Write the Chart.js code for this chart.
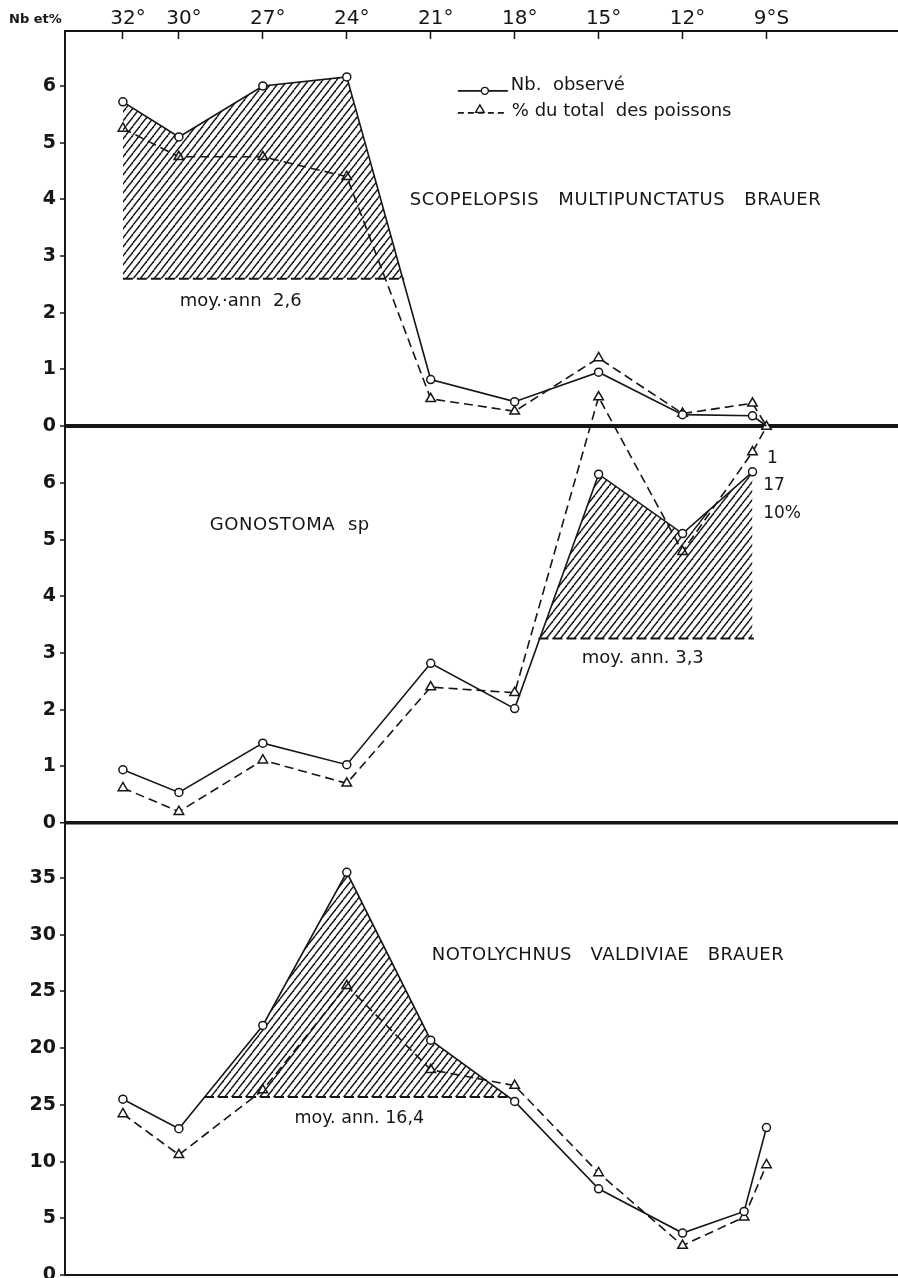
<!DOCTYPE html>
<html>
<head>
<meta charset="utf-8">
<script src="https://cdn.jsdelivr.net/npm/chart.js@4.4.1/dist/chart.umd.min.js"></script>
<style>
  html, body { margin: 0; padding: 0; background: #fff; }
  #wrap { width: 898px; height: 1278px; }
</style>
</head>
<body>
<div id="wrap"><canvas id="chart" width="898" height="1278"></canvas></div>
<script>
// stations, degrees of latitude S (top axis)
const latTicks = [32, 30, 27, 24, 21, 18, 15, 12, 9];
const latTickLabels = ["32°", "30°", "27°", "24°", "21°", "18°", "15°", "12°", "9°S"];

// Scopelopsis multipunctatus Brauer
const scopeLat = [32, 30, 27, 24, 21, 18, 15, 12, 9.5, 9];
const scopeNb = [5.72, 5.1, 6.0, 6.16, 0.82, 0.43, 0.95, 0.2, 0.18, 0];
const scopePct = [5.25, 4.75, 4.75, 4.4, 0.48, 0.26, 1.2, 0.22, 0.4, 0];
const scopeMean = 2.6;
const scopeMeanSpan = [32, 21.95];

// Gonostoma sp
const gonoLatNb = [32, 30, 27, 24, 21, 18, 15, 12, 9.5];
const gonoNb = [0.94, 0.54, 1.41, 1.03, 2.82, 2.02, 6.16, 5.11, 6.2];
const gonoLatPct = [32, 30, 27, 24, 21, 18, 15, 12, 9.5, 9];
const gonoPct = [0.62, 0.2, 1.11, 0.7, 2.4, 2.3, 7.52, 4.79, 6.55, 7.0];
const gonoMean = 3.26;
const gonoMeanSpan = [17.15, 9.45];

// Notolychnus valdiviae Brauer
const notoLat = [32, 30, 27, 24, 21, 18, 15, 12, 9.8, 9];
const notoNb = [15.5, 12.9, 22.0, 35.5, 20.7, 15.3, 7.6, 3.7, 5.6, 13.0];
const notoPct = [14.2, 10.6, 16.3, 25.5, 18.1, 16.7, 9.0, 2.6, 5.1, 9.7];
const notoMean = 15.7;
const notoMeanSpan = [29.1, 18.25];

// left axis ticks
const smallTicks = [0, 1, 2, 3, 4, 5, 6];
const notoTicks = [0, 5, 10, 15, 20, 25, 30, 35];
const notoTickLabels = ["0", "5", "10", "25", "20", "25", "30", "35"];

const ink = "#161616";
const face = "'DejaVu Sans', sans-serif";

function makeHatch() {
  const w = 7, h = 9;
  const c = document.createElement("canvas");
  c.width = w;
  c.height = h;
  const g = c.getContext("2d");
  g.strokeStyle = ink;
  g.lineWidth = 1.4;
  for (const k of [-1, 0, 1]) {
    g.beginPath();
    g.moveTo(k * w, h);
    g.lineTo(k * w + w, 0);
    g.stroke();
  }
  return g.createPattern(c, "repeat");
}
const hatch = makeHatch();

function points(lat, vals) {
  return lat.map((x, i) => ({ x, y: vals[i] }));
}

// fillTo: index of the mean dataset of the same panel
function nbLine(axis, lat, vals, fillTo) {
  return {
    label: "Nb. observé",
    yAxisID: axis,
    data: points(lat, vals),
    borderColor: ink,
    borderWidth: 1.6,
    pointStyle: "circle",
    pointRadius: (c) => (c.raw && c.raw.y === 0 ? 0 : 4),
    pointBackgroundColor: "#fff",
    pointBorderColor: ink,
    pointBorderWidth: 1.5,
    fill: { target: fillTo, above: hatch, below: "rgba(0,0,0,0)" },
    clip: false,
  };
}

function pctLine(axis, lat, vals) {
  return {
    label: "% du total des poissons",
    yAxisID: axis,
    data: points(lat, vals),
    borderColor: ink,
    borderWidth: 1.6,
    borderDash: [9, 5],
    pointStyle: "triangle",
    pointRadius: (c) => (c.raw && c.raw.y === 0 ? 0 : 5.5),
    pointBackgroundColor: "#fff",
    pointBorderColor: ink,
    pointBorderWidth: 1.5,
    fill: false,
    clip: false,
  };
}

function meanLine(axis, span, mean) {
  return {
    label: "moy. ann.",
    yAxisID: axis,
    data: span.map((x) => ({ x, y: mean })),
    borderColor: ink,
    borderWidth: 2,
    borderDash: [10, 4],
    pointRadius: 0,
    fill: false,
    clip: false,
  };
}

const notes = [
  { text: "SCOPELOPSIS   MULTIPUNCTATUS   BRAUER", axis: "y1", x: 21.75, y: 3.99, size: 18, spacing: 0.6 },
  { text: "GONOSTOMA  sp", axis: "y2", x: 28.9, y: 5.26, size: 18, spacing: 0.6 },
  { text: "NOTOLYCHNUS   VALDIVIAE   BRAUER", axis: "y3", x: 20.96, y: 28.2, size: 18, spacing: 0.5 },
  { text: "moy.·ann  2,6", axis: "y1", x: 29.97, y: 2.2, size: 18, spacing: 0 },
  { text: "moy. ann. 3,3", axis: "y2", x: 15.6, y: 2.91, size: 18, spacing: 0 },
  { text: "moy. ann. 16,4", axis: "y3", x: 25.87, y: 13.83, size: 17.5, spacing: 0 },
  { text: "1", axis: "y2", x: 8.98, y: 6.44, size: 17, spacing: 0 },
  { text: "17", axis: "y2", x: 9.12, y: 5.95, size: 17, spacing: 0 },
  { text: "10%", axis: "y2", x: 9.12, y: 5.47, size: 17, spacing: 0 },
];

const legendAt = { axis: "y1", x: 20.03, y: 6.02 };

const annotate = {
  id: "annotate",
  afterDraw(chart) {
    const { ctx, scales, chartArea } = chart;
    ctx.save();
    ctx.fillStyle = ink;
    ctx.textBaseline = "middle";
    ctx.textAlign = "left";
    for (const n of notes) {
      ctx.font = `${n.size}px ${face}`;
      ctx.letterSpacing = `${n.spacing || 0}px`;
      ctx.fillText(n.text, scales.x.getPixelForValue(n.x), scales[n.axis].getPixelForValue(n.y));
    }
    ctx.letterSpacing = "0px";

    // axis caption
    ctx.font = `bold 13px ${face}`;
    ctx.fillText("Nb et%", chartArea.left - 56, chartArea.top - 11);

    // legend
    const lx = scales.x.getPixelForValue(legendAt.x);
    const ly = scales[legendAt.axis].getPixelForValue(legendAt.y);
    ctx.strokeStyle = ink;
    ctx.lineWidth = 1.6;
    ctx.beginPath();
    ctx.moveTo(lx, ly + 6);
    ctx.lineTo(lx + 50, ly + 6);
    ctx.stroke();
    ctx.setLineDash([6, 4]);
    ctx.beginPath();
    ctx.moveTo(lx, ly + 28);
    ctx.lineTo(lx + 50, ly + 28);
    ctx.stroke();
    ctx.setLineDash([]);
    ctx.fillStyle = "#fff";
    ctx.lineWidth = 1.4;
    Chart.helpers.drawPoint(ctx, { pointStyle: "circle", radius: 3.5, borderWidth: 1.4, rotation: 0 }, lx + 27, ly + 6);
    Chart.helpers.drawPoint(ctx, { pointStyle: "triangle", radius: 5, borderWidth: 1.4, rotation: 0 }, lx + 22, ly + 25);
    ctx.fillStyle = ink;
    ctx.font = `18px ${face}`;
    ctx.fillText("Nb.  observé", lx + 53, ly);
    ctx.fillText("% du total  des poissons", lx + 54, ly + 26);
    ctx.restore();
  },
};

function panelAxis(weight, stackWeight, max, ticks, labels, zeroWidth) {
  return {
    type: "linear",
    position: "left",
    stack: "panels",
    stackWeight,
    weight,
    min: 0,
    max,
    afterBuildTicks: (s) => {
      s.ticks = ticks.map((v) => ({ value: v }));
    },
    afterFit: (s) => {
      s.width = 65;
      s.paddingTop = 0;
      s.paddingBottom = 0;
    },
    border: { color: ink, width: 2 },
    grid: {
      color: ink,
      lineWidth: (c) => (c.tick && c.tick.value === 0 ? zeroWidth : 0),
      tickLength: 5,
      tickWidth: 1.5,
      tickColor: ink,
    },
    ticks: {
      color: ink,
      padding: 4,
      font: { family: face, size: 19, weight: "bold" },
      callback: (v) => labels[ticks.indexOf(v)],
    },
  };
}

new Chart(document.getElementById("chart"), {
  type: "line",
  data: {
    datasets: [
      nbLine("y1", scopeLat, scopeNb, 2),
      pctLine("y1", scopeLat, scopePct),
      meanLine("y1", scopeMeanSpan, scopeMean),
      nbLine("y2", gonoLatNb, gonoNb, 5),
      pctLine("y2", gonoLatPct, gonoPct),
      meanLine("y2", gonoMeanSpan, gonoMean),
      nbLine("y3", notoLat, notoNb, 8),
      pctLine("y3", notoLat, notoPct),
      meanLine("y3", notoMeanSpan, notoMean),
    ],
  },
  options: {
    responsive: false,
    animation: false,
    devicePixelRatio: 1,
    layout: { autoPadding: false, padding: { top: 0, left: 0, right: 0, bottom: 3 } },
    plugins: { legend: { display: false }, tooltip: { enabled: false } },
    scales: {
      x: {
        type: "linear",
        position: "top",
        reverse: true,
        min: 4.3,
        max: 34.07,
        afterBuildTicks: (s) => {
          s.ticks = latTicks.map((v) => ({ value: v }));
        },
        afterFit: (s) => {
          s.height = 31;
          s.paddingLeft = 0;
          s.paddingRight = 0;
        },
        border: { color: ink, width: 2 },
        grid: { drawOnChartArea: false, tickLength: -8, tickWidth: 1.5, tickColor: ink },
        ticks: {
          color: ink,
          padding: 8,
          labelOffset: 5,
          maxRotation: 0,
          autoSkip: false,
          font: { family: face, size: 20 },
          callback: (v) => latTickLabels[latTicks.indexOf(v)],
        },
      },
      y1: panelAxis(3, 395, 6.97, smallTicks, smallTicks.map(String), 4),
      y2: panelAxis(2, 397, 7.01, smallTicks, smallTicks.map(String), 3.5),
      y3: panelAxis(1, 452, 39.85, notoTicks, notoTickLabels, 2),
    },
  },
  plugins: [annotate],
});
</script>
</body>
</html>
